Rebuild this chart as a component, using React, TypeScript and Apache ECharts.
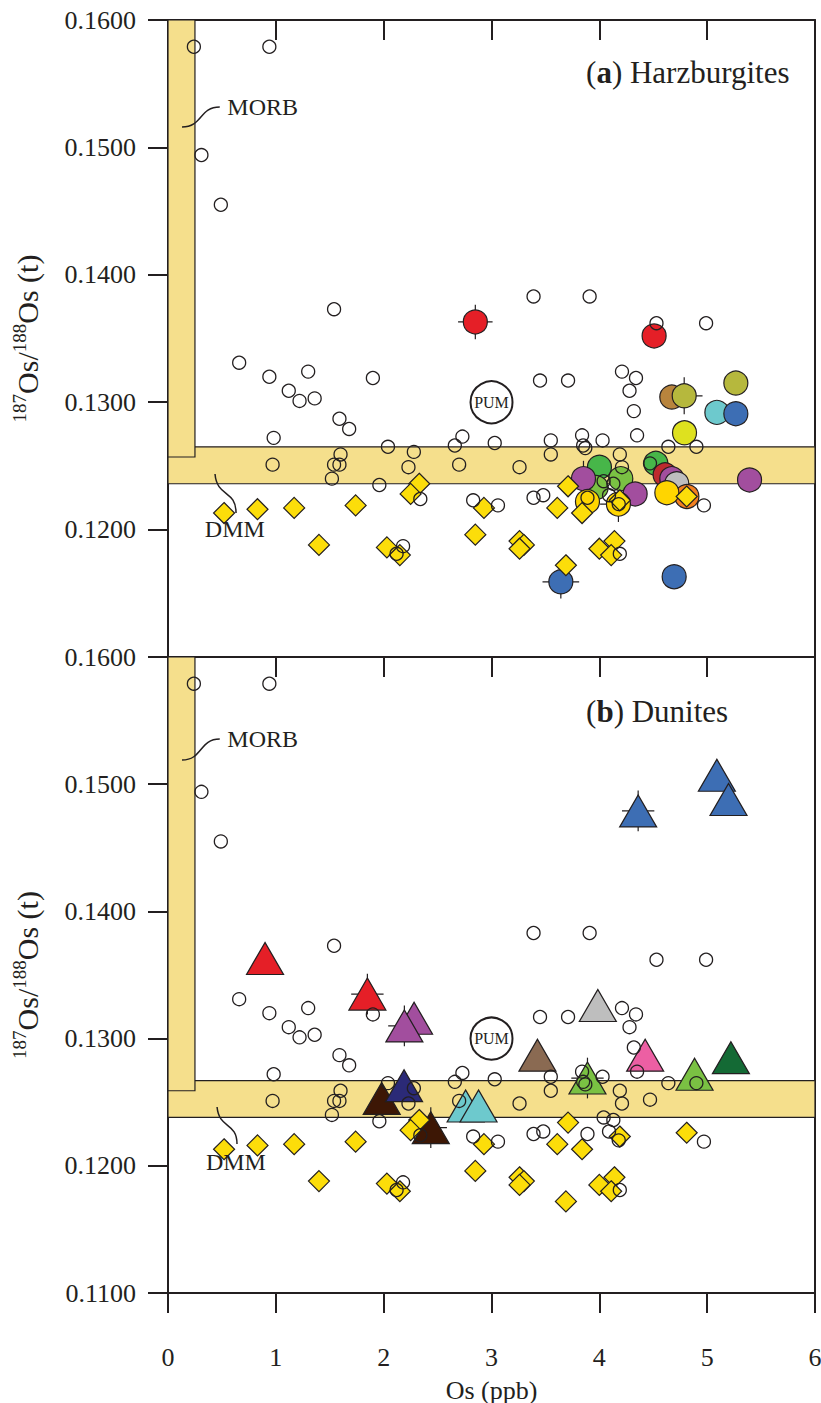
import React, { useEffect, useRef } from "react";
import * as echarts from "echarts";

const FONT = "'Liberation Serif', 'Times New Roman', serif";
const INK = "#231F20";
const BAND = "#F5DF8C";

// ---- axes ----
const X_MIN = 0;
const X_MAX = 6;
const X_STEP = 1;
const Y_MIN = 0.11;
const Y_MAX = 0.16;
const Y_STEP = 0.01;

// ---- reference fields ----
const morbX: [number, number] = [0, 0.25];
const morbBottomA = 0.1257;
const morbBottomB = 0.1259;
const dmmBandA: [number, number] = [0.1236, 0.1265];
const dmmBandB: [number, number] = [0.1238, 0.1267];
const pum: [number, number] = [3.0, 0.13];

// ---- literature peridotites (open circles, both panels) ----
const openCircles: [number, number][] = [
  [0.24, 0.1579], [0.94, 0.1579], [0.31, 0.1494], [0.49, 0.1455], [1.54, 0.1373],
  [3.39, 0.1383], [3.91, 0.1383], [4.53, 0.1362], [4.99, 0.1362],
  [0.66, 0.1331], [0.94, 0.132], [1.3, 0.1324], [1.12, 0.1309], [1.22, 0.1301],
  [1.36, 0.1303], [1.9, 0.1319], [1.59, 0.1287], [1.68, 0.1279], [0.98, 0.1272],
  [2.04, 0.1265], [2.28, 0.1261], [2.73, 0.1273], [2.66, 0.1266], [0.97, 0.1251],
  [1.6, 0.1259], [1.54, 0.1251], [1.59, 0.1251], [1.52, 0.124], [2.23, 0.1249],
  [2.7, 0.1251], [1.96, 0.1235], [2.34, 0.1224], [2.83, 0.1223], [2.18, 0.1187],
  [2.12, 0.1181],
  [3.03, 0.1268], [4.21, 0.1324], [4.34, 0.1319], [4.28, 0.1309], [3.45, 0.1317],
  [3.71, 0.1317], [4.32, 0.1293], [4.35, 0.1274], [3.84, 0.1274], [3.55, 0.127],
  [4.03, 0.127], [3.85, 0.1266], [3.87, 0.1264], [4.64, 0.1265], [4.9, 0.1265],
  [3.55, 0.1259], [4.19, 0.1259], [3.26, 0.1249], [4.47, 0.1252], [4.21, 0.1249],
  [3.39, 0.1225], [3.48, 0.1227], [3.06, 0.1219], [4.97, 0.1219], [3.89, 0.1225],
  [4.04, 0.1238], [4.13, 0.1236], [4.09, 0.1227], [4.18, 0.122], [4.19, 0.1181],
];

// ---- abyssal peridotites (yellow diamonds, both panels) ----
const diamonds: [number, number][] = [
  [0.52, 0.1213], [0.83, 0.1216], [1.17, 0.1217], [1.74, 0.1219], [1.4, 0.1188],
  [2.03, 0.1186], [2.15, 0.118], [2.33, 0.1236], [2.25, 0.1228], [2.93, 0.1217],
  [2.85, 0.1196], [3.71, 0.1234], [3.61, 0.1217], [3.84, 0.1213], [4.19, 0.1223],
  [4.81, 0.1226], [3.26, 0.1191], [3.3, 0.1188], [3.26, 0.1185], [3.69, 0.1172],
  [4.0, 0.1185], [4.14, 0.1191], [4.11, 0.118],
];

const COLORS: Record<string, string> = {
  red: "#E51F27",
  darkred: "#BE2A2E",
  ochre: "#B8843D",
  olive: "#B6B83D",
  cyan: "#6DC9CD",
  blue: "#3D6EB4",
  lime: "#DEE11F",
  green: "#47B649",
  lgreen: "#7AC143",
  purple: "#A24E9E",
  gray: "#BEBEBE",
  orange: "#F38020",
  gold: "#FFD500",
  darkbrown: "#3D1705",
  navy: "#2B2A77",
  brown: "#8A6A52",
  pink: "#EC5FA3",
  dkgreen: "#146A35",
};

// ---- (a) harzburgites: x, y, colour ----
const harzX = [3.643, 4.694, 2.85, 4.508, 4.672, 4.787, 5.266, 5.09, 5.266, 4.79, 4.001, 3.97,
  3.853, 4.199, 4.332, 4.524, 4.61, 4.672, 4.718, 4.812, 4.626, 3.89, 4.177, 5.393];
const harzY = [0.1159, 0.1163, 0.1363, 0.1352, 0.1304, 0.1305, 0.1315, 0.1292, 0.1291, 0.1276, 0.1249, 0.1233,
  0.124, 0.124, 0.1228, 0.1252, 0.1243, 0.124, 0.1236, 0.1226, 0.1229, 0.1222, 0.122, 0.1239];
const harzC = ["blue", "blue", "red", "red", "ochre", "olive", "olive", "cyan", "blue", "lime", "green", "lgreen",
  "purple", "lgreen", "purple", "green", "darkred", "purple", "gray", "orange", "gold", "gold", "gold", "purple"];
// x, y, x-error, y-error
const harzErr: [number, number, number, number][] = [
  [2.85, 0.1363, 0.16, 0.00135],
  [4.787, 0.1305, 0.17, 0.00145],
  [3.643, 0.1159, 0.17, 0.0013],
  [4.177, 0.122, 0.17, 0.0014],
  [3.853, 0.124, 0.12, 0.0014],
];

// ---- (b) dunites: x, y, colour ----
const dunX = [4.36, 5.09, 5.198, 0.9, 1.849, 2.282, 2.192, 1.982, 2.189, 2.437, 2.76, 2.88,
  3.986, 3.426, 4.425, 3.89, 4.883, 5.22];
const dunY = [0.1479, 0.1507, 0.1488, 0.1363, 0.1335, 0.1316, 0.131, 0.1253, 0.1263, 0.123, 0.1247, 0.1247,
  0.1326, 0.1287, 0.1287, 0.1269, 0.1272, 0.1285];
const dunC = ["blue", "blue", "blue", "red", "red", "purple", "purple", "darkbrown", "navy", "darkbrown", "cyan", "cyan",
  "gray", "brown", "pink", "lgreen", "lgreen", "dkgreen"];
const dunErr: [number, number, number, number][] = [
  [4.36, 0.1479, 0.15, 0.0016],
  [1.849, 0.1335, 0.15, 0.0016],
  [2.192, 0.131, 0.15, 0.0016],
  [2.437, 0.123, 0.15, 0.0016],
  [3.89, 0.1269, 0.15, 0.0016],
];

const axisLine = { show: true, onZero: false, lineStyle: { color: INK, width: 2 } };
const tickStyle = { color: INK, width: 2 };

function xAxes() {
  const base = { type: "value", min: X_MIN, max: X_MAX, interval: X_STEP, splitLine: { show: false } };
  return [
    { ...base, gridIndex: 0, position: "bottom", axisLine, axisTick: { show: false }, axisLabel: { show: false } },
    { ...base, gridIndex: 0, position: "top", axisLine, axisTick: { show: true, inside: true, length: 20, lineStyle: tickStyle }, axisLabel: { show: false } },
    {
      ...base, gridIndex: 1, position: "bottom", axisLine,
      axisTick: { show: true, inside: false, length: 20, lineStyle: tickStyle },
      axisLabel: { show: true, margin: 51, fontSize: 26, fontFamily: FONT, color: INK },
      name: "Os (ppb)", nameLocation: "middle", nameGap: 84,
      nameTextStyle: { fontSize: 26, fontFamily: FONT, color: INK },
    },
    { ...base, gridIndex: 1, position: "top", axisLine, axisTick: { show: true, inside: true, length: 20, lineStyle: tickStyle }, axisLabel: { show: false } },
  ];
}

const yName = "{s|187}{m|Os/}{s|188}{m|Os (t)}";
const yNameStyle = {
  fontFamily: FONT,
  color: INK,
  rich: {
    s: { fontSize: 19, fontFamily: FONT, color: INK, verticalAlign: "top", lineHeight: 20 },
    m: { fontSize: 30, fontFamily: FONT, color: INK, verticalAlign: "bottom", lineHeight: 32 },
  },
};

function yAxes() {
  const base = { type: "value", min: Y_MIN, max: Y_MAX, interval: Y_STEP, splitLine: { show: false } };
  const left = (g: number, showMin: boolean) => ({
    ...base, gridIndex: g, position: "left", axisLine,
    axisTick: { show: true, inside: false, length: 20, lineStyle: tickStyle },
    axisLabel: {
      show: true, margin: 32, fontSize: 26, fontFamily: FONT, color: INK, showMinLabel: showMin,
      formatter: (v: number) => v.toFixed(4),
    },
    name: yName, nameLocation: "middle", nameRotate: 90, nameGap: 126, nameTextStyle: yNameStyle,
  });
  const right = (g: number) => ({
    ...base, gridIndex: g, position: "right", axisLine, axisTick: { show: false }, axisLabel: { show: false },
  });
  return [left(0, false), right(0), left(1, true), right(1)];
}

function bandSeries(xi: number, yi: number, dmm: [number, number], morbBottom: number) {
  return {
    type: "scatter", xAxisIndex: xi, yAxisIndex: yi, data: [], z: 1, silent: true,
    markArea: {
      silent: true,
      itemStyle: { color: BAND, borderColor: INK, borderWidth: 1.2 },
      data: [
        [{ coord: [X_MIN, dmm[0]] }, { coord: [X_MAX, dmm[1]] }],
        [{ coord: [morbX[0], morbBottom] }, { coord: [morbX[1], Y_MAX] }],
      ],
    },
  };
}

function errSeries(xi: number, yi: number, data: [number, number, number, number][]) {
  return {
    type: "custom", xAxisIndex: xi, yAxisIndex: yi, z: 2, silent: true,
    encode: { x: 0, y: 1 },
    data,
    renderItem: (_p: any, api: any) => {
      const x = api.value(0), y = api.value(1), ex = api.value(2), ey = api.value(3);
      const l = api.coord([x - ex, y]), r = api.coord([x + ex, y]);
      const t = api.coord([x, y + ey]), b = api.coord([x, y - ey]);
      const st = { stroke: INK, lineWidth: 1.2 };
      return {
        type: "group",
        children: [
          { type: "line", shape: { x1: l[0], y1: l[1], x2: r[0], y2: r[1] }, style: st },
          { type: "line", shape: { x1: t[0], y1: t[1], x2: b[0], y2: b[1] }, style: st },
        ],
      };
    },
  };
}

function colouredSeries(xi: number, yi: number, xs: number[], ys: number[], cs: string[], symbol: string, size: any) {
  return {
    type: "scatter", xAxisIndex: xi, yAxisIndex: yi, z: 3, symbol, symbolSize: size, silent: true,
    data: xs.map((x, i) => ({ value: [x, ys[i]], itemStyle: { color: COLORS[cs[i]] } })),
    itemStyle: { borderColor: INK, borderWidth: 1.2, opacity: 1 },
  };
}

function backgroundSeries(xi: number, yi: number) {
  return [
    {
      type: "scatter", xAxisIndex: xi, yAxisIndex: yi, z: 4, symbol: "diamond", symbolSize: 21, silent: true,
      data: diamonds,
      itemStyle: { color: "#FCDD0A", borderColor: INK, borderWidth: 1.2, opacity: 1 },
    },
    {
      type: "scatter", xAxisIndex: xi, yAxisIndex: yi, z: 5, symbol: "circle", symbolSize: 13, silent: true,
      data: openCircles,
      itemStyle: { color: "rgba(0,0,0,0)", borderColor: INK, borderWidth: 1.3, opacity: 1 },
    },
    {
      type: "scatter", xAxisIndex: xi, yAxisIndex: yi, z: 5, symbol: "circle", symbolSize: 42, silent: true,
      data: [pum],
      itemStyle: { color: "#FFFFFF", borderColor: INK, borderWidth: 2, opacity: 1 },
      label: { show: true, position: "inside", formatter: "PUM", fontSize: 16, fontFamily: FONT, color: INK },
    },
  ];
}

export default function App() {
  const ref = useRef<HTMLDivElement>(null);

  useEffect(() => {
    document.body.style.margin = "0";
    if (!ref.current) return;
    const chart = echarts.init(ref.current, undefined, { renderer: "svg" });

    const option: any = {
      animation: false,
      backgroundColor: "#FFFFFF",
      textStyle: { fontFamily: FONT, color: INK },
      grid: [
        { left: 168, top: 20, width: 647, height: 637, outerBoundsMode: "none" },
        { left: 168, top: 657, width: 647, height: 636, outerBoundsMode: "none" },
      ],
      xAxis: xAxes(),
      yAxis: yAxes(),
      series: [
        bandSeries(0, 0, dmmBandA, morbBottomA),
        errSeries(0, 0, harzErr),
        colouredSeries(0, 0, harzX, harzY, harzC, "circle", 24),
        ...backgroundSeries(0, 0),
        bandSeries(2, 2, dmmBandB, morbBottomB),
        errSeries(2, 2, dunErr),
        colouredSeries(2, 2, dunX, dunY, dunC, "triangle", [37, 32]),
        ...backgroundSeries(2, 2),
      ],
    };
    chart.setOption(option);

    const px = (g: number, x: number, y: number) =>
      chart.convertToPixel({ gridIndex: g } as any, [x, y]) as number[];

    const leaderH = (g: number, a: [number, number], b: [number, number]) => {
      const p = px(g, a[0], a[1]);
      const q = px(g, b[0], b[1]);
      const dx = q[0] - p[0];
      return {
        type: "bezierCurve",
        shape: { x1: p[0], y1: p[1], cpx1: p[0] + dx * 0.55, cpy1: p[1], cpx2: p[0] + dx * 0.45, cpy2: q[1], x2: q[0], y2: q[1] },
        style: { stroke: INK, lineWidth: 1.5, fill: "none" },
        z: 10,
      };
    };
    const leaderV = (g: number, a: [number, number], b: [number, number]) => {
      const p = px(g, a[0], a[1]);
      const q = px(g, b[0], b[1]);
      const dy = q[1] - p[1];
      return {
        type: "bezierCurve",
        shape: { x1: p[0], y1: p[1], cpx1: p[0] + 2, cpy1: p[1] + dy * 0.6, cpx2: q[0], cpy2: p[1] + dy * 0.4, x2: q[0], y2: q[1] },
        style: { stroke: INK, lineWidth: 1.5, fill: "none" },
        z: 10,
      };
    };
    const label = (g: number, at: [number, number], text: string, size: number, align: string) => {
      const p = px(g, at[0], at[1]);
      return {
        type: "text", x: p[0], y: p[1], z: 10,
        style: {
          text, fontSize: size, fontFamily: FONT, fill: INK, align, verticalAlign: "middle",
          rich: { b: { fontWeight: "bold", fontSize: size, fontFamily: FONT, fill: INK } },
        },
      };
    };

    const graphic = [
      leaderH(0, [0.13, 0.1516], [0.48, 0.15317]),
      label(0, [0.55, 0.15317], "MORB", 24, "left"),
      leaderV(0, [0.436, 0.12436], [0.631, 0.1213]),
      label(0, [0.62, 0.12005], "DMM", 24, "center"),
      label(0, [3.877, 0.15584], "({b|a}) Harzburgites", 31, "left"),
      leaderH(1, [0.13, 0.1519], [0.48, 0.15355]),
      label(1, [0.55, 0.15355], "MORB", 24, "left"),
      leaderV(1, [0.455, 0.12462], [0.64, 0.12171]),
      label(1, [0.63, 0.1203], "DMM", 24, "center"),
      label(1, [3.877, 0.15568], "({b|b}) Dunites", 31, "left"),
    ];
    chart.setOption({ graphic });

    return () => chart.dispose();
  }, []);

  return (
    <div
      ref={ref}
      style={{ position: "absolute", left: 0, top: 0, width: 821, height: 1403, background: "#FFFFFF" }}
    />
  );
}
